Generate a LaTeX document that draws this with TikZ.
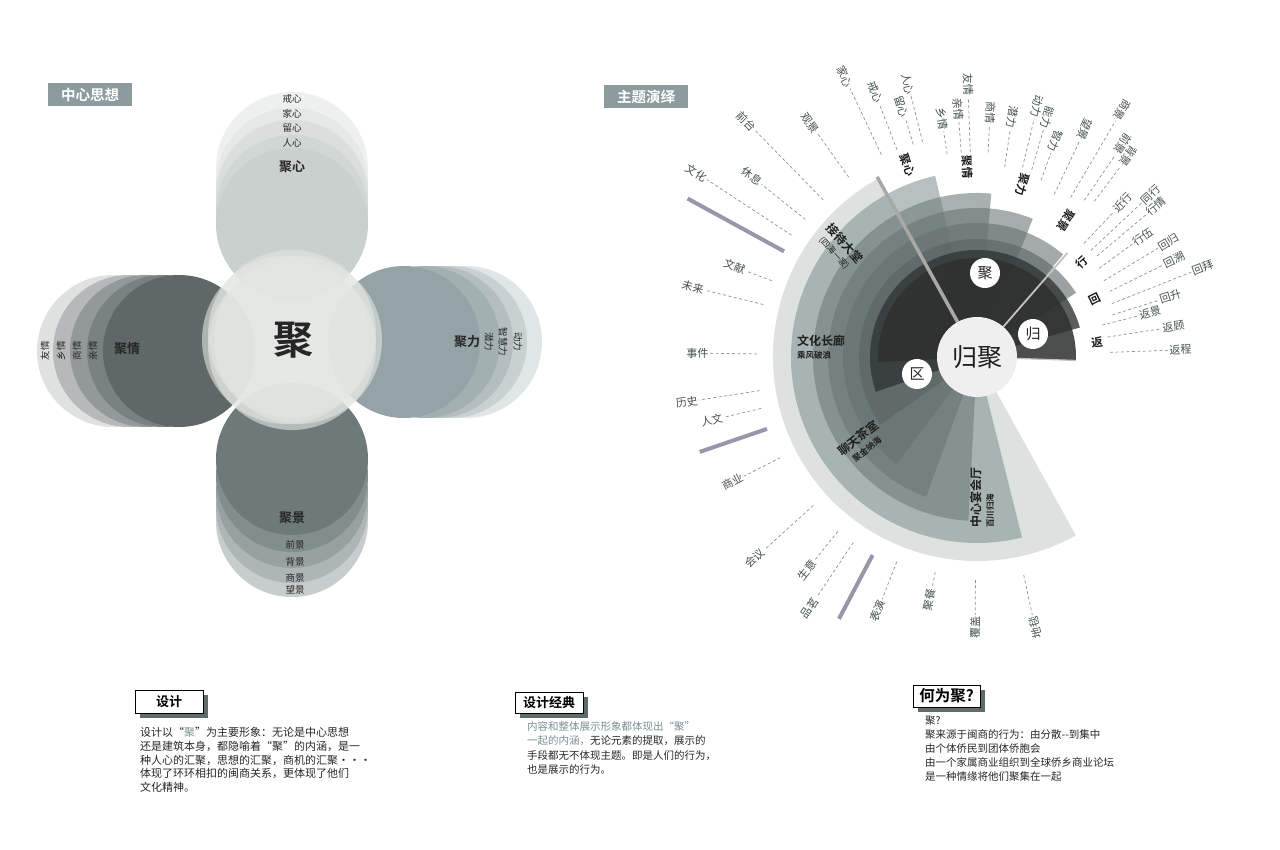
\documentclass[tikz,border=0pt]{standalone}
\usepackage{fontspec}
\setmainfont{Noto Sans CJK SC}[BoldFont={Noto Sans CJK SC Bold}]
\usetikzlibrary{calc,positioning,shadows}

\definecolor{titlegray}{HTML}{8C9B9D}
\definecolor{shadowgray}{HTML}{5E6B6B}
\definecolor{lbltext}{HTML}{435050}
\definecolor{leadgray}{HTML}{869494}
\definecolor{barpurple}{HTML}{9A96A9}
\definecolor{hl}{HTML}{7A8F91}
\definecolor{topa}{HTML}{EEF0EF}
\definecolor{topb}{HTML}{E4E8E6}
\definecolor{topc}{HTML}{DADFDD}
\definecolor{topd}{HTML}{D1D7D5}
\definecolor{tope}{HTML}{C9D0CD}
\definecolor{bota}{HTML}{C7CDCC}
\definecolor{botb}{HTML}{AEB6B5}
\definecolor{botc}{HTML}{97A1A0}
\definecolor{botd}{HTML}{828E8D}
\definecolor{bote}{HTML}{6E7A7A}
\definecolor{lefa}{HTML}{DFE1E0}
\definecolor{lefb}{HTML}{B5B9B9}
\definecolor{lefc}{HTML}{939999}
\definecolor{lefd}{HTML}{7A8181}
\definecolor{lefe}{HTML}{5F6767}
\definecolor{riga}{HTML}{E0E5E5}
\definecolor{rigb}{HTML}{C8D0D1}
\definecolor{rigc}{HTML}{B4BEC0}
\definecolor{rigd}{HTML}{A3B0B2}
\definecolor{rige}{HTML}{93A3A6}
\definecolor{cenfill}{HTML}{E3E7E2}
\definecolor{seca}{HTML}{9EACA6}
\definecolor{secb}{HTML}{859694}
\definecolor{secc}{HTML}{707D7B}
\definecolor{secd}{HTML}{6B7675}
\definecolor{sece}{HTML}{667170}
\definecolor{secf}{HTML}{5A6462}
\definecolor{secg}{HTML}{313635}
\definecolor{sech}{HTML}{2E302F}
\definecolor{spokegray}{HTML}{A8A8A8}
\definecolor{spokelight}{HTML}{C2C2C2}
\definecolor{centerwhite}{HTML}{EFEFEF}

\begin{document}
\begin{tikzpicture}[x=1pt, y=1pt,
  boxtitle/.style={fill=titlegray, text=white, font=\fontsize{14.5}{16}\selectfont\bfseries, minimum width=84pt, minimum height=23pt, inner sep=0},
  capbox/.style={draw=black, line width=0.8pt, fill=white, minimum width=68pt, minimum height=23pt, inner sep=0, font=\fontsize{13}{15}\selectfont\bfseries, general shadow={fill=shadowgray, shadow xshift=5pt, shadow yshift=-5pt}},
  small/.style={font=\fontsize{9.5}{10}\selectfont, text=black!85, inner sep=1pt},
  petallbl/.style={font=\fontsize{13}{15}\selectfont\bfseries, text=black!85},
  radlbl/.style={font=\fontsize{11}{12}\selectfont, text=lbltext, inner sep=1.5pt},
  seclbl/.style={font=\fontsize{11.5}{13}\selectfont\bfseries, text=black!90, inner sep=0},
  fanlbl/.style={font=\fontsize{12}{13}\selectfont, text=black!88, inner sep=0, align=center},
  tagdisc/.style={circle, fill=white, minimum size=30pt, inner sep=0, font=\fontsize{15}{15}\selectfont, text=black!85},
  leader/.style={leadgray, line width=0.7pt, dash pattern=on 3pt off 2.5pt},
  bar/.style={barpurple, line width=4pt},
  para/.style={anchor=north west, align=left, inner sep=0, text=black!85}]
\useasboundingbox (0,0) rectangle (1280,849);

% titles
\node[boxtitle] (zhongxin) at (90,754.5) {中心思想};
\node[boxtitle] (zhuti) at (646,752) {主题演绎};

% petals of the left figure
\foreach \y/\c in {681/topa, 665/topb, 653/topc, 638/topd, 625/tope}
  \fill[\c] (292,\y) circle[radius=76];
\foreach \y/\c in {328/bota, 342/botb, 357/botc, 373/botd, 390/bote}
  \fill[\c] (292,\y) circle[radius=76];
\foreach \x/\c in {113/lefa, 129/lefb, 146/lefc, 163/lefd, 179/lefe}
  \fill[\c] (\x,498) circle[radius=76];
\foreach \x/\c in {466/riga, 451/rigb, 437/rigc, 424/rigd, 404/rige}
  \fill[\c] (\x,507) circle[radius=76];
\foreach \x/\y in {286/509, 298/509, 292/503, 292/515}
  \fill[cenfill, fill opacity=0.6] (\x,\y) circle[radius=84];

\node[font=\fontsize{40}{40}\selectfont\bfseries, text=black!85] (ju) at (293,509) {聚};
\node[petallbl] (juxin) at (292,682) {聚心};
\node[small] (jiexin) at (292,750) {戒心};
\node[small] (jiaxin) at (292,735) {家心};
\node[small] (liuxin) at (292,721) {留心};
\node[small] (renxin) at (292,706) {人心};
\node[petallbl] (jujing) at (292,331) {聚景};
\node[small] (qianjing) at (295,304) {前景};
\node[small] (beijing) at (295,287) {背景};
\node[small] (shangjing) at (295,271) {商景};
\node[small] (wangjing) at (295,259) {望景};
\node[petallbl] (juqing) at (127,500) {聚情};
\node[small, rotate=90] (youqing) at (45,498) {友情};
\node[small, rotate=90] (xiangqing) at (61,498) {乡情};
\node[small, rotate=90] (shangqing) at (77,498) {商情};
\node[small, rotate=90] (qinqing) at (93,498) {亲情};
\node[petallbl] (juli) at (467,507) {聚力};
\node[small, rotate=-90] (qianli) at (489,507) {潜力};
\node[small, rotate=-90] (zhihuili) at (503,507) {智慧力};
\node[small, rotate=-90] (dongli) at (518,507) {动力};

% fan of the right figure
\coordinate (O) at (977,492);
\foreach \s/\e/\r/\c/\o in {119/299/204/seca/0.35, 103/284/186/secb/0.6, 85/267/164/secc/0.6, 68/250/149/secd/0.6, 50/233/134/sece/0.6, 33/215/118/secf/0.6, 16/199/107/secg/0.8, -2/183/99/sech/0.85}
  \fill[\c, fill opacity=\o] (O) -- ++(\s:\r) arc[start angle=\s, end angle=\e, radius=\r] -- cycle;
\draw[spokegray, line width=3.5pt] (O) -- ++(119:206);
\draw[spokelight, line width=1.8pt] (O) -- ++(49:138);
\draw[spokelight, line width=1.2pt] (O) -- ++(-2:99);

\node[circle, fill=centerwhite, minimum size=80pt, inner sep=0, font=\fontsize{25}{25}\selectfont, text=black!88] (guiju) at (O) {归聚};
\node[tagdisc] (tju) at (985,576) {聚};
\node[tagdisc] (tgui) at (1033,515) {归};
\node[tagdisc] (tqu) at (917,475) {区};

\node[fanlbl, rotate=-48] (jiedai) at (840,601) {\textbf{接待大堂}\\{\fontsize{8.5}{9}\selectfont (四海一家)}};
\node[fanlbl, anchor=west, align=left] (changlang) at (797,502) {\textbf{文化长廊}\\{\fontsize{8.5}{9}\selectfont\bfseries 乘风破浪}};
\node[fanlbl, rotate=38] (chashi) at (862,406) {\textbf{聊天茶室}\\{\fontsize{8.5}{9}\selectfont\bfseries 聚金纳海}};
\node[fanlbl, rotate=90, anchor=west, align=left] (yanhui) at (982,321) {\textbf{中心宴会厅}\\{\fontsize{8.5}{9}\selectfont\bfseries 百川归海}};

% section names
\foreach \a/\r/\t [count=\n] in {110/204/聚心, 93/190/聚情, 75/178/聚力, 57/163/聚景}
  \node[seclbl, rotate=\a+180] (si\n) at ($(O)+(\a:\r)$) {\t};
\foreach \a/\r/\t [count=\n] in {42/141/行, 26/131/回, 7/121/返}
  \node[seclbl, rotate=\a] (so\n) at ($(O)+(\a:\r)$) {\t};

% outer words, read towards the centre
\foreach \a/\r/\i/\t [count=\n] in {146.7/323/222/文化, 141.3/276/220/休息, 134.4/317/220/前台, 125.5/275/221/观景, 115.3/297/224/家心, 111.1/271/222/戒心, 106.7/249/222/留心, 104.2/269/222/人心, 98.4/228/205/乡情, 94.4/236/205/亲情, 91.9/260/205/友情, 86.9/232/205/商情, 81.7/230/192/潜力, 76.5/245/195/动力, 73.7/237/195/能力, 70.1/217/188/智力, 64.6/239/180/望景, 59.6/274/185/商景, 55.6/245/190/前景, 53.0/239/195/背景, 159.6/246/219/文献, 166.2/280/220/未来, 179.2/267/220/事件, 188.8/281/220/历史, 193.4/260/222/人文, 207.1/262/221/商业, 222.2/287/221/会议, 231.4/260/223/生意, 236.3/289/223/品茗, 248.6/260/220/表演, 259.0/235/219/聚餐, 269.6/258/223/覆盖, 282.1/264/223/地毯}
{
  \coordinate (li\n) at ($(O)+(\a:\i)$);
  \node[radlbl, anchor=east, rotate=\a+180] (lb\n) at ($(O)+(\a:\r)$) {\t};
  \draw[leader] (li\n) -- (lb\n.east);
}
% outer words on the right, read outwards
\foreach \a/\r/\i/\t [count=\n] in {46.7/200/156/近行, 43.1/225/156/同行, 40.1/221/157/行情, 36.0/192/151/行伍, 31.0/211/148/回归, 26.3/207/148/回溯, 21.6/230/145/回拜, 17.3/190/142/回升, 14.3/166/129/返景, 8.7/186/132/返顾, 2.0/191/133/返程}
{
  \coordinate (ro\n) at ($(O)+(\a:\i)$);
  \node[radlbl, anchor=west, rotate=\a] (rl\n) at ($(O)+(\a:\r)$) {\t};
  \draw[leader] (ro\n) -- (rl\n.west);
}
\foreach \a/\i/\o in {151.3/220/330, 198.9/222/293, 242.2/224/296}
  \draw[bar] ($(O)+(\a:\i)$) -- ($(O)+(\a:\o)$);

% captions and texts
\node[capbox] (sheji) at (169,147.5) {设计};
\node[capbox, minimum height=21pt] (jingdian) at (549,146.5) {设计经典};
\node[capbox, minimum width=67pt, minimum height=22pt, font=\fontsize{15.5}{17}\selectfont\bfseries] (heweiju) at (946.5,153) {何为聚?};

\node[para, font=\fontsize{11}{13.8}\selectfont] (text1) at (140,122) {设计以“{\color{hl}聚}”为主要形象：无论是中心思想\\还是建筑本身，都隐喻着“聚”的内涵，是一\\种人心的汇聚，思想的汇聚，商机的汇聚···\\体现了环环相扣的闽商关系，更体现了他们\\文化精神。};
\node[para, font=\fontsize{10.5}{14.5}\selectfont] (text2) at (527,128) {{\color{hl}内容和整体展示形象都体现出“聚”}\\{\color{hl}一起的内涵，}无论元素的提取，展示的\\手段都无不体现主题。即是人们的行为，\\也是展示的行为。};
\node[para, font=\fontsize{10.5}{14}\selectfont] (text3) at (925,133) {聚?\\聚来源于闽商的行为：由分散-{}-到集中\\由个体侨民到团体侨胞会\\由一个家属商业组织到全球侨乡商业论坛\\是一种情缘将他们聚集在一起};
\end{tikzpicture}
\end{document}
